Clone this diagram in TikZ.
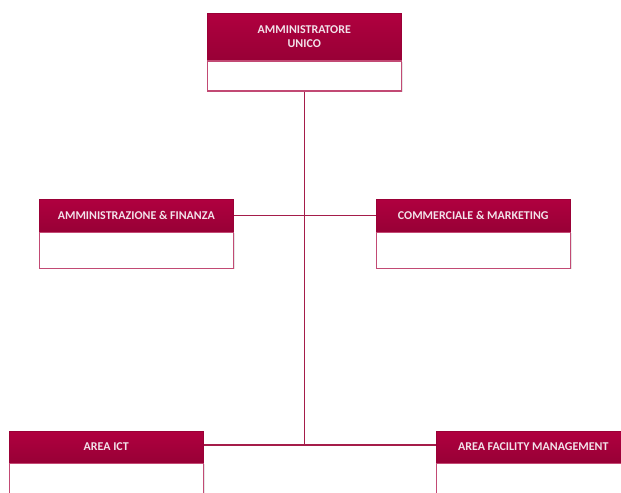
\documentclass[tikz,border=0pt]{standalone}
\usepackage{fontspec}
\setmainfont{Carlito}
\usetikzlibrary{shadows}
\definecolor{hdrtop}{HTML}{B0003F}
\definecolor{hdrbot}{HTML}{980036}
\definecolor{hdrline}{HTML}{9A0036}
\definecolor{hdrtext}{HTML}{F2E2EA}
\definecolor{bodyline}{HTML}{C24A74}
\definecolor{conn}{HTML}{A51D4A}
\begin{document}
\begin{tikzpicture}[x=1bp,y=-1bp,
  hdrbox/.style={draw=hdrline, line width=0.5bp, top color=hdrtop, bottom color=hdrbot,
    minimum width=194bp, inner sep=0pt, anchor=north west, text=hdrtext,
    font=\bfseries\fontsize{12}{14.5}\selectfont, align=center,
    drop shadow={opacity=0.2, shadow xshift=1bp, shadow yshift=-1.2bp}},
  bodybox/.style={draw=bodyline, line width=1.2bp, fill=white, minimum width=194bp,
    inner sep=0pt, anchor=north west,
    drop shadow={opacity=0.2, shadow xshift=1bp, shadow yshift=-1.2bp}},
  connector/.style={draw=conn, line width=1.4bp}]
\useasboundingbox (0,0) rectangle (621,493);
% top box
\node[hdrbox, minimum height=47bp] (h0) at (207,13) {AMMINISTRATORE\\UNICO};
\node[bodybox, minimum height=30bp] (b0) at (h0.south west) {};
% middle boxes
\node[hdrbox, minimum height=32bp] (h1) at (39,199) {AMMINISTRAZIONE \& FINANZA};
\node[bodybox, minimum height=36bp] (b1) at (h1.south west) {};
\node[hdrbox, minimum height=32bp] (h2) at (376,199) {COMMERCIALE \& MARKETING};
\node[bodybox, minimum height=36bp] (b2) at (h2.south west) {};
% bottom boxes
\node[hdrbox, minimum height=31bp] (h3) at (9,431) {AREA ICT};
\node[bodybox, minimum height=40bp] (b3) at (h3.south west) {};
\node[hdrbox, minimum height=31bp] (h4) at (436,431) {AREA FACILITY MANAGEMENT};
\node[bodybox, minimum height=40bp] (b4) at (h4.south west) {};
% connectors
\coordinate (j) at (b0.south |- 0,445);
\draw[connector] (b0.south) -- (j);
\draw[connector] (h1.east) -- (h2.west);
\draw[connector] (h3.east |- j) -- (h4.west |- j);
\end{tikzpicture}
\end{document}
